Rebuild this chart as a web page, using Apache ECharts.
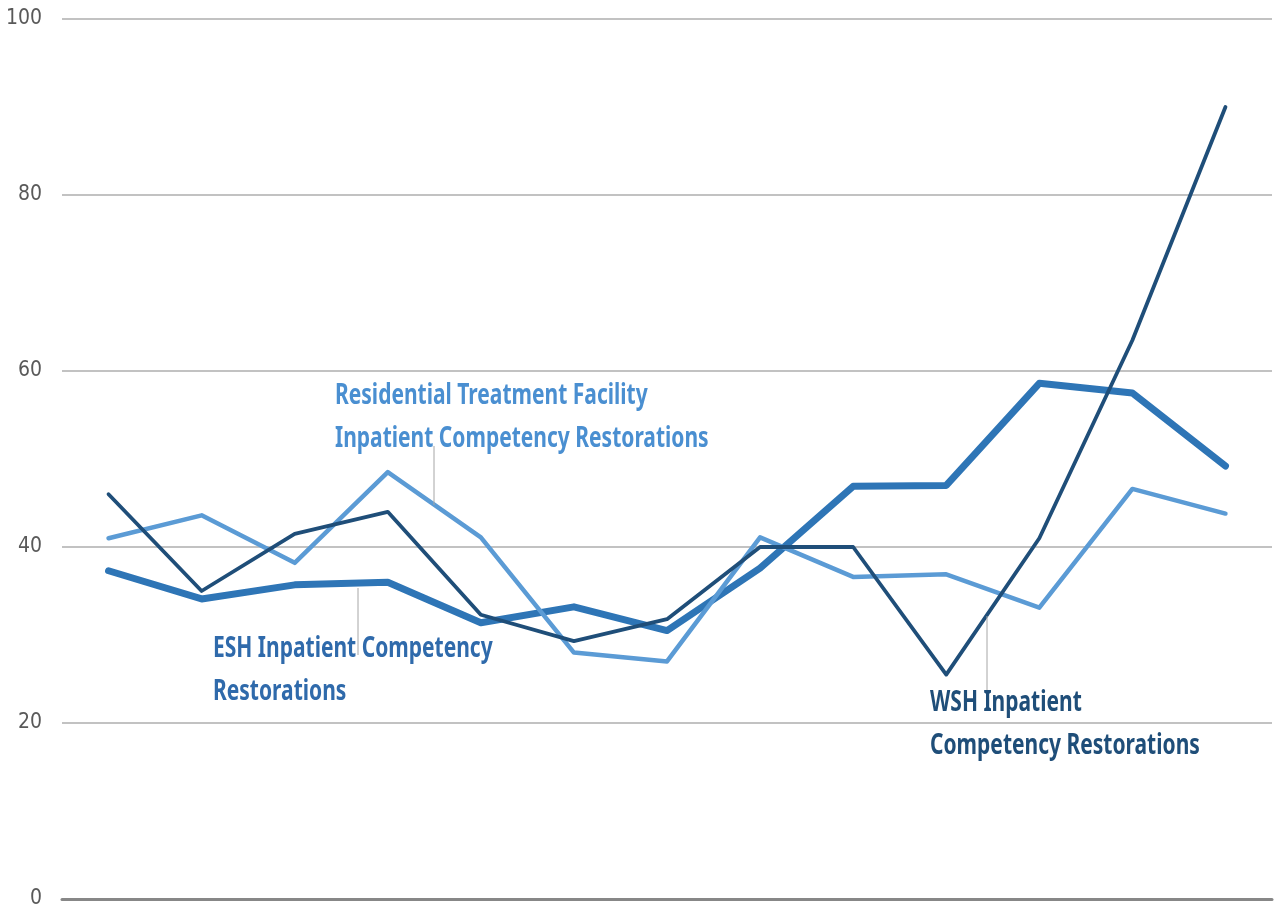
<!DOCTYPE html>
<html>
<head>
<meta charset="utf-8">
<script src="https://cdn.jsdelivr.net/npm/echarts@6/dist/echarts.min.js"></script>
<style>
html,body{margin:0;padding:0;background:#fff;}
#chart{width:1281px;height:911px;}
</style>
</head>
<body>
<div id="chart"></div>
<script>
var categories = ['1','2','3','4','5','6','7','8','9','10','11','12','13'];
var wshValues = [46.0, 35.0, 41.5, 44.0, 32.3, 29.3, 31.8, 40.0, 40.0, 25.5, 41.0, 63.5, 90.0];
var eshValues = [37.3, 34.1, 35.7, 36.0, 31.4, 33.2, 30.5, 37.6, 46.9, 47.0, 58.6, 57.5, 49.2];
var rtfValues = [41.0, 43.6, 38.2, 48.5, 41.1, 28.0, 27.0, 41.1, 36.6, 36.9, 33.1, 46.6, 43.8];
var yTicks = [0, 20, 40, 60, 80, 100];

var labelFont = '"Noto Sans", "Liberation Sans", sans-serif';
var tickFont = '"DejaVu Sans Condensed", "Liberation Sans", sans-serif';

var chart = echarts.init(document.getElementById('chart'), null, {renderer: 'canvas'});

function labelText(x, y, lines, color) {
  return {
    type: 'text', x: x, y: y, z: 10,
    scaleX: 0.75, scaleY: 1,
    style: {
      text: lines.join('\n'),
      fill: color,
      font: 'bold 28px ' + labelFont,
      lineHeight: 43
    }
  };
}
function leader(x, y1, y2) {
  return {
    type: 'line', z: 9,
    shape: {x1: x, y1: y1, x2: x, y2: y2},
    style: {stroke: '#a6a6a6', lineWidth: 1}
  };
}

chart.setOption({
  animation: false,
  backgroundColor: '#ffffff',
  grid: {left: 62, right: 9, top: 19, bottom: 12, containLabel: false},
  xAxis: {
    type: 'category',
    data: categories,
    boundaryGap: true,
    axisLine: {show: true, lineStyle: {color: '#878787', width: 3}},
    axisTick: {show: false},
    axisLabel: {show: false},
    splitLine: {show: false}
  },
  yAxis: {
    type: 'value',
    min: yTicks[0],
    max: yTicks[yTicks.length - 1],
    interval: 20,
    axisLine: {show: false},
    axisTick: {show: false},
    axisLabel: {
      color: '#595959',
      fontFamily: tickFont,
      fontSize: 21,
      margin: 20
    },
    splitLine: {lineStyle: {color: '#c2c2c2', width: 2}}
  },
  series: [
    {
      name: 'ESH Inpatient Competency Restorations',
      type: 'line', data: eshValues, symbol: 'none', z: 2,
      lineStyle: {color: '#2E75B6', width: 7, cap: 'round', join: 'round'}
    },
    {
      name: 'WSH Inpatient Competency Restorations',
      type: 'line', data: wshValues, symbol: 'none', z: 4,
      lineStyle: {color: '#1F4E79', width: 3.8, cap: 'round', join: 'round'}
    },
    {
      name: 'Residential Treatment Facility Inpatient Competency Restorations',
      type: 'line', data: rtfValues, symbol: 'none', z: 3,
      lineStyle: {color: '#5B9BD5', width: 4.5, cap: 'round', join: 'round'}
    }
  ],
  graphic: [
    leader(434, 446, 505),
    leader(358, 588, 655),
    leader(987, 616, 708),
    labelText(335, 375, ['Residential Treatment Facility', 'Inpatient Competency Restorations'], '#4A8FD1'),
    labelText(213, 628, ['ESH Inpatient Competency', 'Restorations'], '#2F6AAB'),
    labelText(930, 682, ['WSH Inpatient', 'Competency Restorations'], '#1F4E79')
  ]
});
</script>
</body>
</html>
